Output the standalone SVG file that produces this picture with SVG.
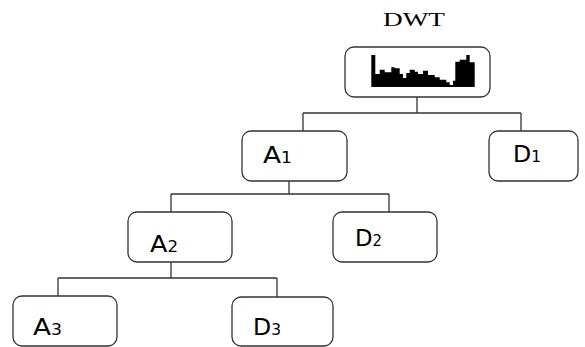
<svg xmlns="http://www.w3.org/2000/svg" width="585" height="347" viewBox="0 0 585 347">
<style>
.box{fill:#fff;stroke:#333;stroke-width:1.3}
.conn{fill:none;stroke:#333;stroke-width:1.3}
.lbl{font-family:"DejaVu Sans",sans-serif;font-size:23px;fill:#000}
.sub{font-size:15px}
.title{font-family:"Liberation Serif",serif;font-size:19px;fill:#000}
</style>
<defs>
<filter id="soft" x="-5%" y="-5%" width="110%" height="110%"><feGaussianBlur stdDeviation="0.5"/></filter>
</defs>
<rect width="585" height="347" fill="#fff"/>
<text class="title" x="383" y="26" textLength="62" lengthAdjust="spacingAndGlyphs">DWT</text>
<g id="connectors">
<path class="conn" d="M417,97 V113 M303,113 H521 M303,113 V131 M521,113 V131"/>
<path class="conn" d="M289,181 V194 M171,194 H389 M171,194 V212 M389,194 V212"/>
<path class="conn" d="M171,262 V278 M58,278 H277 M58,278 V296 M277,278 V297"/>
</g>
<g id="dwt">
<rect class="box" x="345" y="47" width="145" height="50" rx="9"/>
<polygon filter="url(#soft)" fill="#000" points="371.3,87 371.3,55 375.3,55 375.3,74 379.7,74 379.7,69.7 384.7,69.7 384.7,72.3 391.3,72.3 391.3,67.3 394.7,67.3 394.7,68.3 399.7,68.3 399.7,74 403,74 403,78 406.3,78 406.3,73 409.7,73 409.7,69.7 414.7,69.7 414.7,71.7 418,71.7 418,74 423,74 423,70.7 428,70.7 428,75 434.7,75 434.7,77.3 439.7,77.3 439.7,79.7 446.3,79.7 446.3,82.3 449.7,82.3 449.7,85 453,85 453,80.7 455.3,80.7 455.3,61.7 459.7,61.7 459.7,59.7 466.3,59.7 466.3,55 469.7,55 469.7,62.3 474.7,62.3 474.7,87"/>
</g>
<g id="A1">
<rect class="box" x="242" y="131" width="105" height="50" rx="9"/>
<text class="lbl" x="263" y="163" textLength="29" lengthAdjust="spacingAndGlyphs">A<tspan class="sub">1</tspan></text>
</g>
<g id="D1">
<rect class="box" x="489" y="131" width="89" height="50" rx="9"/>
<text class="lbl" x="513" y="162" textLength="28" lengthAdjust="spacingAndGlyphs">D<tspan class="sub">1</tspan></text>
</g>
<g id="A2">
<rect class="box" x="128" y="212" width="104" height="50" rx="9"/>
<text class="lbl" x="150" y="252" textLength="28" lengthAdjust="spacingAndGlyphs">A<tspan class="sub">2</tspan></text>
</g>
<g id="D2">
<rect class="box" x="333" y="212" width="104" height="50" rx="9"/>
<text class="lbl" x="355" y="246" textLength="27" lengthAdjust="spacingAndGlyphs">D<tspan class="sub">2</tspan></text>
</g>
<g id="A3">
<rect class="box" x="13" y="296" width="104" height="50" rx="9"/>
<text class="lbl" x="33" y="335" textLength="29" lengthAdjust="spacingAndGlyphs">A<tspan class="sub">3</tspan></text>
</g>
<g id="D3">
<rect class="box" x="232" y="297" width="101" height="49" rx="9"/>
<text class="lbl" x="253" y="335" textLength="28" lengthAdjust="spacingAndGlyphs">D<tspan class="sub">3</tspan></text>
</g>
</svg>
